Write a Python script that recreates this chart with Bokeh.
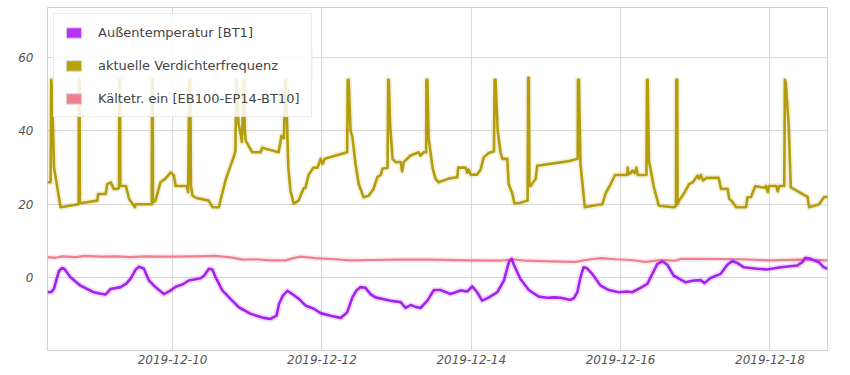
import pandas as pd
from bokeh.plotting import figure
from bokeh.models import (ColumnDataSource, FixedTicker, DatetimeTickFormatter, Legend,
                          LegendItem, BoxAnnotation, Range1d)
from bokeh.embed import file_html
from bokeh.resources import INLINE

# ---------------- data (hours since 2019-12-08 00:00) ----------------
series_names = ["Außentemperatur [BT1]", "aktuelle Verdichterfrequenz", "Kältetr. ein [EB100-EP14-BT10]"]

outdoor_hours = [7.8, 9.1, 9.9, 10.7, 11.5, 12.5, 13.3, 15.2, 18.4, 22.7,
                 24.9, 26.5, 28.1, 31.3, 33.2, 34.5, 36.1, 37.2, 38.8, 40.4,
                 42.5, 45.2, 47.4, 49.0, 51.1, 53.2, 57.0, 58.1, 59.7, 60.8,
                 61.8, 64.0, 66.6, 69.3, 73.1, 77.3, 79.5, 81.4, 82.2, 83.4,
                 84.9, 86.5, 88.6, 90.7, 93.4, 95.6, 98.8, 102.0, 104.1, 105.8,
                 107.1, 108.4, 110.0, 111.6, 113.2, 118.1, 121.3, 122.9, 124.5, 126.1,
                 127.7, 129.9, 132.0, 134.1, 137.3, 140.6, 142.7, 144.3, 145.9, 147.5,
                 149.7, 152.4, 154.5, 156.1, 157.0, 157.7, 159.8, 162.5, 165.7, 168.4,
                 170.6, 172.7, 175.9, 177.0, 178.1, 179.1, 180.1, 181.1, 182.9, 185.6,
                 188.2, 191.4, 194.1, 195.7, 198.4, 200.6, 202.2, 203.8, 205.4, 207.0,
                 209.1, 212.9, 215.5, 217.7, 219.0, 220.9, 224.1, 226.3, 227.9, 229.5,
                 231.6, 235.9, 239.1, 243.4, 248.8, 250.4, 251.4, 253.1, 255.7, 257.3,
                 258.5]
outdoor_values = [-4.0, -3.9, -3.0, -0.5, 1.8, 2.6, 2.3, 0.1, -2.2, -4.0,
                  -4.4, -4.6, -3.1, -2.6, -1.6, -0.3, 2.1, 3.0, 2.4, -0.8,
                  -2.6, -4.5, -3.5, -2.5, -1.9, -0.8, -0.2, 0.5, 2.4, 2.2,
                  0.1, -3.5, -5.8, -8.1, -9.9, -11.0, -11.3, -10.4, -7.2, -5.0,
                  -3.6, -4.5, -5.8, -7.6, -8.5, -9.7, -10.4, -11.0, -9.5, -5.4,
                  -3.5, -2.6, -2.8, -4.5, -5.4, -6.3, -6.7, -8.3, -7.5, -8.0,
                  -8.3, -6.3, -3.4, -3.4, -4.5, -3.5, -3.8, -2.4, -4.0, -6.3,
                  -5.4, -4.0, -0.8, 4.2, 5.1, 3.5, -0.4, -3.4, -5.2, -5.5,
                  -5.4, -5.5, -6.1, -5.6, -4.0, 0.1, 2.8, 2.6, 1.0, -2.2,
                  -3.4, -4.0, -3.8, -4.0, -2.8, -1.7, 1.0, 3.7, 4.4, 3.5,
                  0.5, -1.3, -0.8, -0.7, -1.5, -0.1, 1.0, 3.5, 4.5, 4.0,
                  2.8, 2.4, 2.2, 2.8, 3.3, 4.2, 5.4, 5.1, 4.2, 2.8,
                  2.4]

freq_hours = [7.8, 8.8, 9.0, 9.2, 9.9, 12.0, 17.8, 17.9, 18.1, 18.2,
              23.8, 24.1, 26.5, 27.0, 28.1, 29.1, 30.4, 30.8, 30.9, 31.1,
              31.2, 33.0, 34.0, 35.9, 36.1, 41.3, 41.4, 41.6, 41.7, 42.5,
              44.1, 45.7, 47.4, 48.4, 49.0, 52.5, 53.0, 53.4, 53.7, 53.9,
              54.4, 55.4, 59.6, 60.9, 62.9, 63.4, 65.0, 66.0, 67.6, 68.2,
              68.5, 68.7, 69.2, 69.9, 70.3, 70.8, 71.0, 71.2, 71.5, 73.6,
              76.3, 76.8, 82.1, 83.0, 83.8, 84.2, 84.4, 85.2, 85.9, 86.9,
              88.5, 90.1, 90.7, 91.7, 93.3, 94.6, 95.6, 96.2, 96.9, 104.1,
              104.3, 104.6, 105.2, 105.8, 106.8, 107.8, 109.4, 111.0, 112.6, 113.8,
              114.9, 115.5, 117.1, 117.3, 117.5, 117.9, 118.7, 119.7, 121.3, 121.8,
              122.3, 124.5, 127.1, 127.7, 128.7, 129.5, 129.6, 129.9, 130.3, 131.6,
              132.5, 133.5, 136.7, 139.5, 139.8, 142.2, 142.7, 143.1, 143.8, 145.9,
              147.0, 148.0, 149.6, 151.3, 151.5, 151.8, 152.5, 153.4, 154.0, 155.6,
              156.0, 157.2, 157.9, 159.8, 162.1, 162.3, 162.5, 162.7, 163.1, 164.7,
              165.2, 174.9, 178.2, 178.3, 178.6, 179.1, 180.5, 182.9, 186.1, 187.2,
              188.8, 190.2, 194.1, 194.3, 194.5, 195.2, 195.8, 196.5, 197.1, 197.5,
              200.3, 200.5, 200.7, 201.1, 202.7, 204.3, 209.1, 209.8, 209.9, 210.2,
              210.3, 210.8, 212.4, 214.0, 215.2, 216.7, 217.2, 217.8, 218.5, 219.5,
              223.5, 224.3, 226.4, 226.9, 227.8, 229.1, 232.3, 232.8, 233.9, 235.3,
              238.2, 238.7, 239.3, 239.7, 242.0, 242.5, 243.0, 244.6, 244.8, 245.1,
              246.0, 246.7, 249.4, 252.1, 252.6, 255.8, 257.4, 258.6]
freq_values = [26, 26, 54, 52, 30, 19.2, 20, 54, 54, 20.3,
               21, 22.8, 22.8, 25.5, 26, 24.2, 24.2, 24.5, 54, 54,
               25, 25, 21.5, 19.2, 20, 20, 54, 54, 20.5, 21,
               26, 27, 28.7, 27.9, 25, 25, 23.3, 54, 54, 25,
               22.4, 21.8, 21, 19.2, 19.2, 21, 26.5, 29, 32.8, 34.6,
               54, 54, 42, 39, 37, 54, 54, 40, 37.4, 34.2,
               34.2, 35.4, 34.2, 38.7, 38, 54, 54, 30, 23.7, 20.2,
               21, 24.3, 24.5, 28, 30, 30, 32.4, 31, 32.4, 34.2,
               54, 54, 40, 38.3, 31, 25.6, 21.9, 22.3, 24.2, 27.4,
               28, 29.7, 30, 54, 54, 42, 32.4, 31.5, 31.5, 29,
               31.5, 33.3, 34.2, 33.3, 34.2, 34.2, 54, 54, 38, 29.8,
               27, 26, 27, 27.4, 30, 30, 28.6, 29.5, 28.1, 28.1,
               29.5, 32.8, 34, 34.5, 54, 54, 40, 34.2, 32.4, 32.4,
               25.6, 22.9, 20.2, 20.4, 21, 54.5, 54.5, 25, 25, 27,
               30.5, 31.7, 32.4, 54, 54, 31, 19.2, 19.6, 20, 23,
               25.5, 28, 28, 30, 28.2, 28.5, 29.2, 28.5, 30, 28,
               28, 54, 54, 32, 24.6, 19.6, 19.2, 19.5, 54, 54,
               20, 21, 23, 25.5, 26, 27.8, 27, 28, 26.5, 27.2,
               27.2, 24.2, 24.2, 21.5, 20.8, 19.2, 19.2, 21.9, 22, 25,
               24.5, 25, 23.3, 25, 25, 23.5, 25, 25, 54, 53,
               42, 24.6, 23.3, 22, 19.2, 20, 22, 22]

brine_hours = [7.8, 10.4, 12.6, 16.8, 20.0, 24.9, 29.7, 34.5, 39.3, 44.1,
               49.0, 55.4, 61.8, 66.6, 70.5, 74.7, 79.5, 84.3, 86.9, 89.1,
               94.0, 100.4, 105.2, 111.6, 119.7, 130.9, 143.8, 153.4, 157.3, 161.5,
               169.5, 177.5, 182.3, 185.6, 190.4, 195.2, 200.0, 204.8, 209.6, 211.3,
               217.7, 230.6, 240.2, 249.8, 258.5]
brine_values = [5.6, 5.4, 5.8, 5.6, 5.9, 5.7, 5.8, 5.6, 5.8, 5.7,
                5.7, 5.8, 5.9, 5.5, 4.9, 5.0, 4.7, 4.7, 5.3, 5.7,
                5.3, 5.0, 4.7, 4.8, 4.9, 4.9, 4.7, 4.6, 5.0, 4.6,
                4.4, 4.3, 5.0, 5.3, 5.0, 4.8, 4.3, 4.8, 4.6, 5.1,
                5.1, 5.0, 4.7, 4.9, 4.7]

x_tick_labels = ["2019-12-10", "2019-12-12", "2019-12-14", "2019-12-16", "2019-12-18"]
y_ticks = [0, 20, 40, 60]

# ---------------- styling ----------------
line_colors = ["#a422ee", "#b39d0c", "#ee7f8f"]
swatch_colors = ["#bb2ff6", "#b8a206", "#f27e8f"]
t0 = pd.Timestamp("2019-12-08 00:00")


def to_time(hours):
    return [t0 + pd.Timedelta(hours=h) for h in hours]


p = figure(width=850, height=375, x_axis_type="datetime", output_backend="svg",
           toolbar_location=None,
           x_range=Range1d(t0 + pd.Timedelta(hours=7.8), t0 + pd.Timedelta(hours=258.5)),
           y_range=Range1d(-19.9, 73.7),
           min_border_left=47, min_border_right=23, min_border_top=7, min_border_bottom=25)
p.background_fill_color = "white"
p.border_fill_color = "white"
p.outline_line_color = "#cfcfcf"

xt = FixedTicker(ticks=[pd.Timestamp(s).value / 1e6 for s in x_tick_labels])
yt = FixedTicker(ticks=y_ticks)
p.xaxis.ticker = xt
p.yaxis.ticker = yt
p.xgrid.ticker = xt
p.ygrid.ticker = yt
fmt = "%Y-%m-%d"
p.xaxis.formatter = DatetimeTickFormatter(microseconds=fmt, milliseconds=fmt, seconds=fmt,
                                          minsec=fmt, minutes=fmt, hourmin=fmt, hours=fmt,
                                          days=fmt, months=fmt, years=fmt)
for ax in (p.xaxis, p.yaxis):
    ax.axis_line_color = None
    ax.major_tick_line_color = None
    ax.minor_tick_line_color = None
    ax.major_tick_out = 0
    ax.major_tick_in = 0
    ax.major_label_text_font = "DejaVu Sans"
    ax.major_label_text_font_style = "italic"
    ax.major_label_text_font_size = "12px"
    ax.major_label_text_color = "#555555"
p.xaxis.major_label_standoff = 4
p.yaxis.major_label_standoff = 14
for g in (p.xgrid, p.ygrid):
    g.grid_line_color = "#d9d9d9"
    g.grid_line_width = 1

# lines: brine first, then outdoor on top, frequency
sets = [(brine_hours, brine_values, line_colors[2], 2.2),
        (outdoor_hours, outdoor_values, line_colors[0], 2.6),
        (freq_hours, freq_values, line_colors[1], 2.6)]
for hrs, vals, col, lw in sets:
    src = ColumnDataSource(dict(x=to_time(hrs), y=vals))
    p.line("x", "y", source=src, line_color=col, line_width=lw + 3.5, line_alpha=0.15,
           line_join="round")
    p.line("x", "y", source=src, line_color=col, line_width=lw, line_join="round")

# legend cell separators (screen units relative to the frame), drawn above the legend
sep_color = "#d2d2d2"
scr = dict(left_units="screen", right_units="screen",
           bottom_units="screen", top_units="screen")
# middle row box -> its top/bottom edges are the row separators
p.add_layout(BoxAnnotation(left=6.5, right=264.5, bottom=268.5, top=301.5,
                           fill_color=None, line_color=sep_color, line_width=1,
                           level="overlay", **scr))
# swatch column box -> its right edge is the column separator
p.add_layout(BoxAnnotation(left=6.5, right=42.5, bottom=234.5, top=335.5,
                           fill_color=None, line_color=sep_color, line_width=1,
                           level="overlay", **scr))

# legend swatches (quads with NaN coordinates: used only for legend glyphs)
nan = float("nan")
items = []
for name, col in zip(series_names, swatch_colors):
    r = p.quad(left=[nan], right=[nan], top=[nan], bottom=[nan], fill_color=col,
               line_color="#d4d4d4", line_width=1)
    items.append(LegendItem(label=name, renderers=[r]))

legend = Legend(items=items, location=(6, 233), padding=10, spacing=17,
                glyph_width=19, glyph_height=13, label_height=16, label_standoff=15,
                label_width=203, label_text_font="DejaVu Sans", label_text_font_size="13px",
                label_text_color="#444444", border_line_color="#d6d6d6", border_line_width=1,
                background_fill_color="white", background_fill_alpha=0.85, margin=0)
p.add_layout(legend)

open("out.html", "w").write(file_html(p, INLINE))
